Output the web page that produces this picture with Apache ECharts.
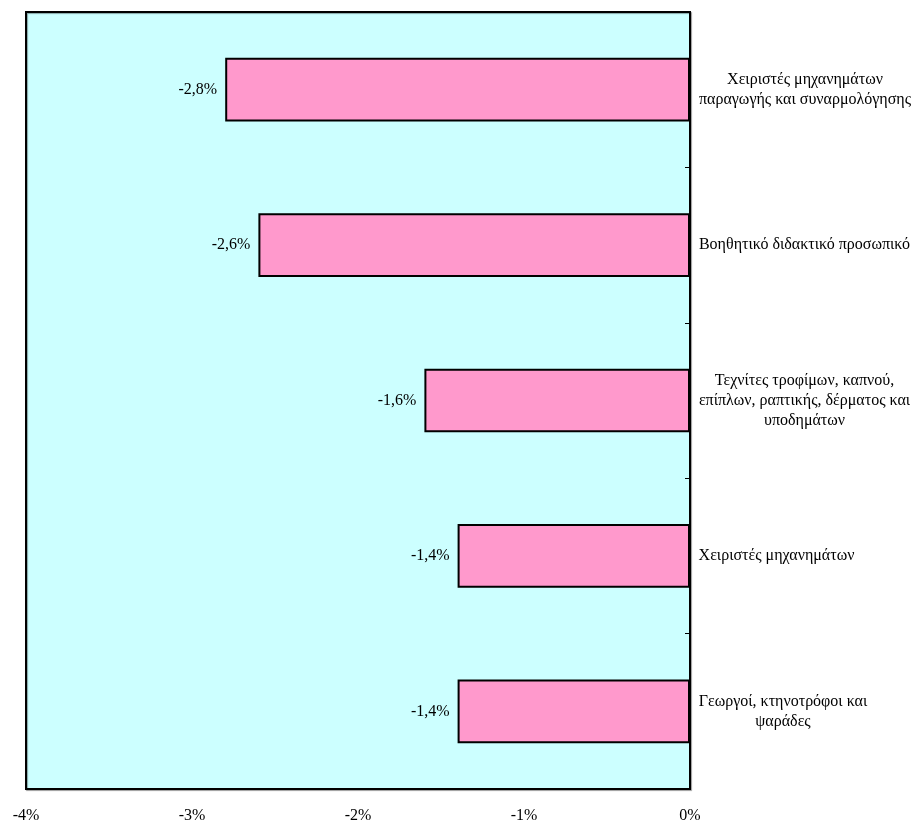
<!DOCTYPE html>
<html>
<head>
<meta charset="utf-8">
<script src="https://cdn.jsdelivr.net/npm/echarts@6/dist/echarts.min.js"></script>
<style>html,body{margin:0;padding:0;background:#fff}#c{width:917px;height:824px}</style>
</head>
<body>
<div id="c"></div>
<script>
const categories = [
  "Χειριστές μηχανημάτων\nπαραγωγής και συναρμολόγησης",
  "Βοηθητικό διδακτικό προσωπικό",
  "Τεχνίτες τροφίμων, καπνού,\nεπίπλων, ραπτικής, δέρματος και\nυποδημάτων",
  "Χειριστές μηχανημάτων",
  "Γεωργοί, κτηνοτρόφοι και\nψαράδες"
];
const values = [-2.8, -2.6, -1.6, -1.4, -1.4];
const xTicks = { min: -4, max: 0, interval: 1 };

const FONT = '"Liberation Serif", "Times New Roman", serif';
const FS = 16;
const ctx = document.createElement('canvas').getContext('2d');
ctx.font = FS + 'px "Liberation Serif"';
const rich = {};
categories.forEach((c, i) => {
  const w = Math.max(...c.split('\n').map(l => ctx.measureText(l).width));
  rich['c' + i] = { width: Math.ceil(w) + 1, align: 'center', fontFamily: FONT, fontSize: FS, lineHeight: 20, color: '#000' };
});

const chart = echarts.init(document.getElementById('c'), null, { renderer: 'canvas' });
chart.setOption({
  animation: false,
  backgroundColor: '#ffffff',
  grid: { left: 26, right: 227, top: 12, bottom: 31, containLabel: false, show: true,
          backgroundColor: '#CCFFFF', borderColor: '#000', borderWidth: 2,
          shadowColor: 'rgba(0,0,0,0.35)', shadowOffsetX: 1, shadowOffsetY: 1, shadowBlur: 1 },
  xAxis: {
    type: 'value', min: xTicks.min, max: xTicks.max, interval: xTicks.interval,
    axisLine: { show: false }, axisTick: { show: false }, splitLine: { show: false },
    axisLabel: { formatter: v => v + '%', fontFamily: FONT, fontSize: FS, color: '#000', margin: 19 }
  },
  yAxis: {
    type: 'category', data: categories, position: 'right', inverse: true,
    axisLine: { show: true, lineStyle: { color: '#000', width: 2 } },
    axisTick: { show: true, inside: true, length: 5, lineStyle: { color: '#000', width: 1 } },
    axisLabel: {
      margin: 8, align: 'left',
      formatter: (val, idx) => {
        const i = categories.indexOf(val);
        return val.split('\n').map(l => '{c' + i + '|' + l + '}').join('\n');
      },
      rich: rich
    }
  },
  series: [{
    type: 'bar', data: values, barCategoryGap: '59%',
    itemStyle: { color: '#FF99CC', borderColor: '#000', borderWidth: 2 },
    label: { show: true, position: 'left', distance: 8, fontFamily: FONT, fontSize: FS, color: '#000',
             formatter: p => p.value.toFixed(1).replace('.', ',') + '%' }
  }]
});
</script>
</body>
</html>
